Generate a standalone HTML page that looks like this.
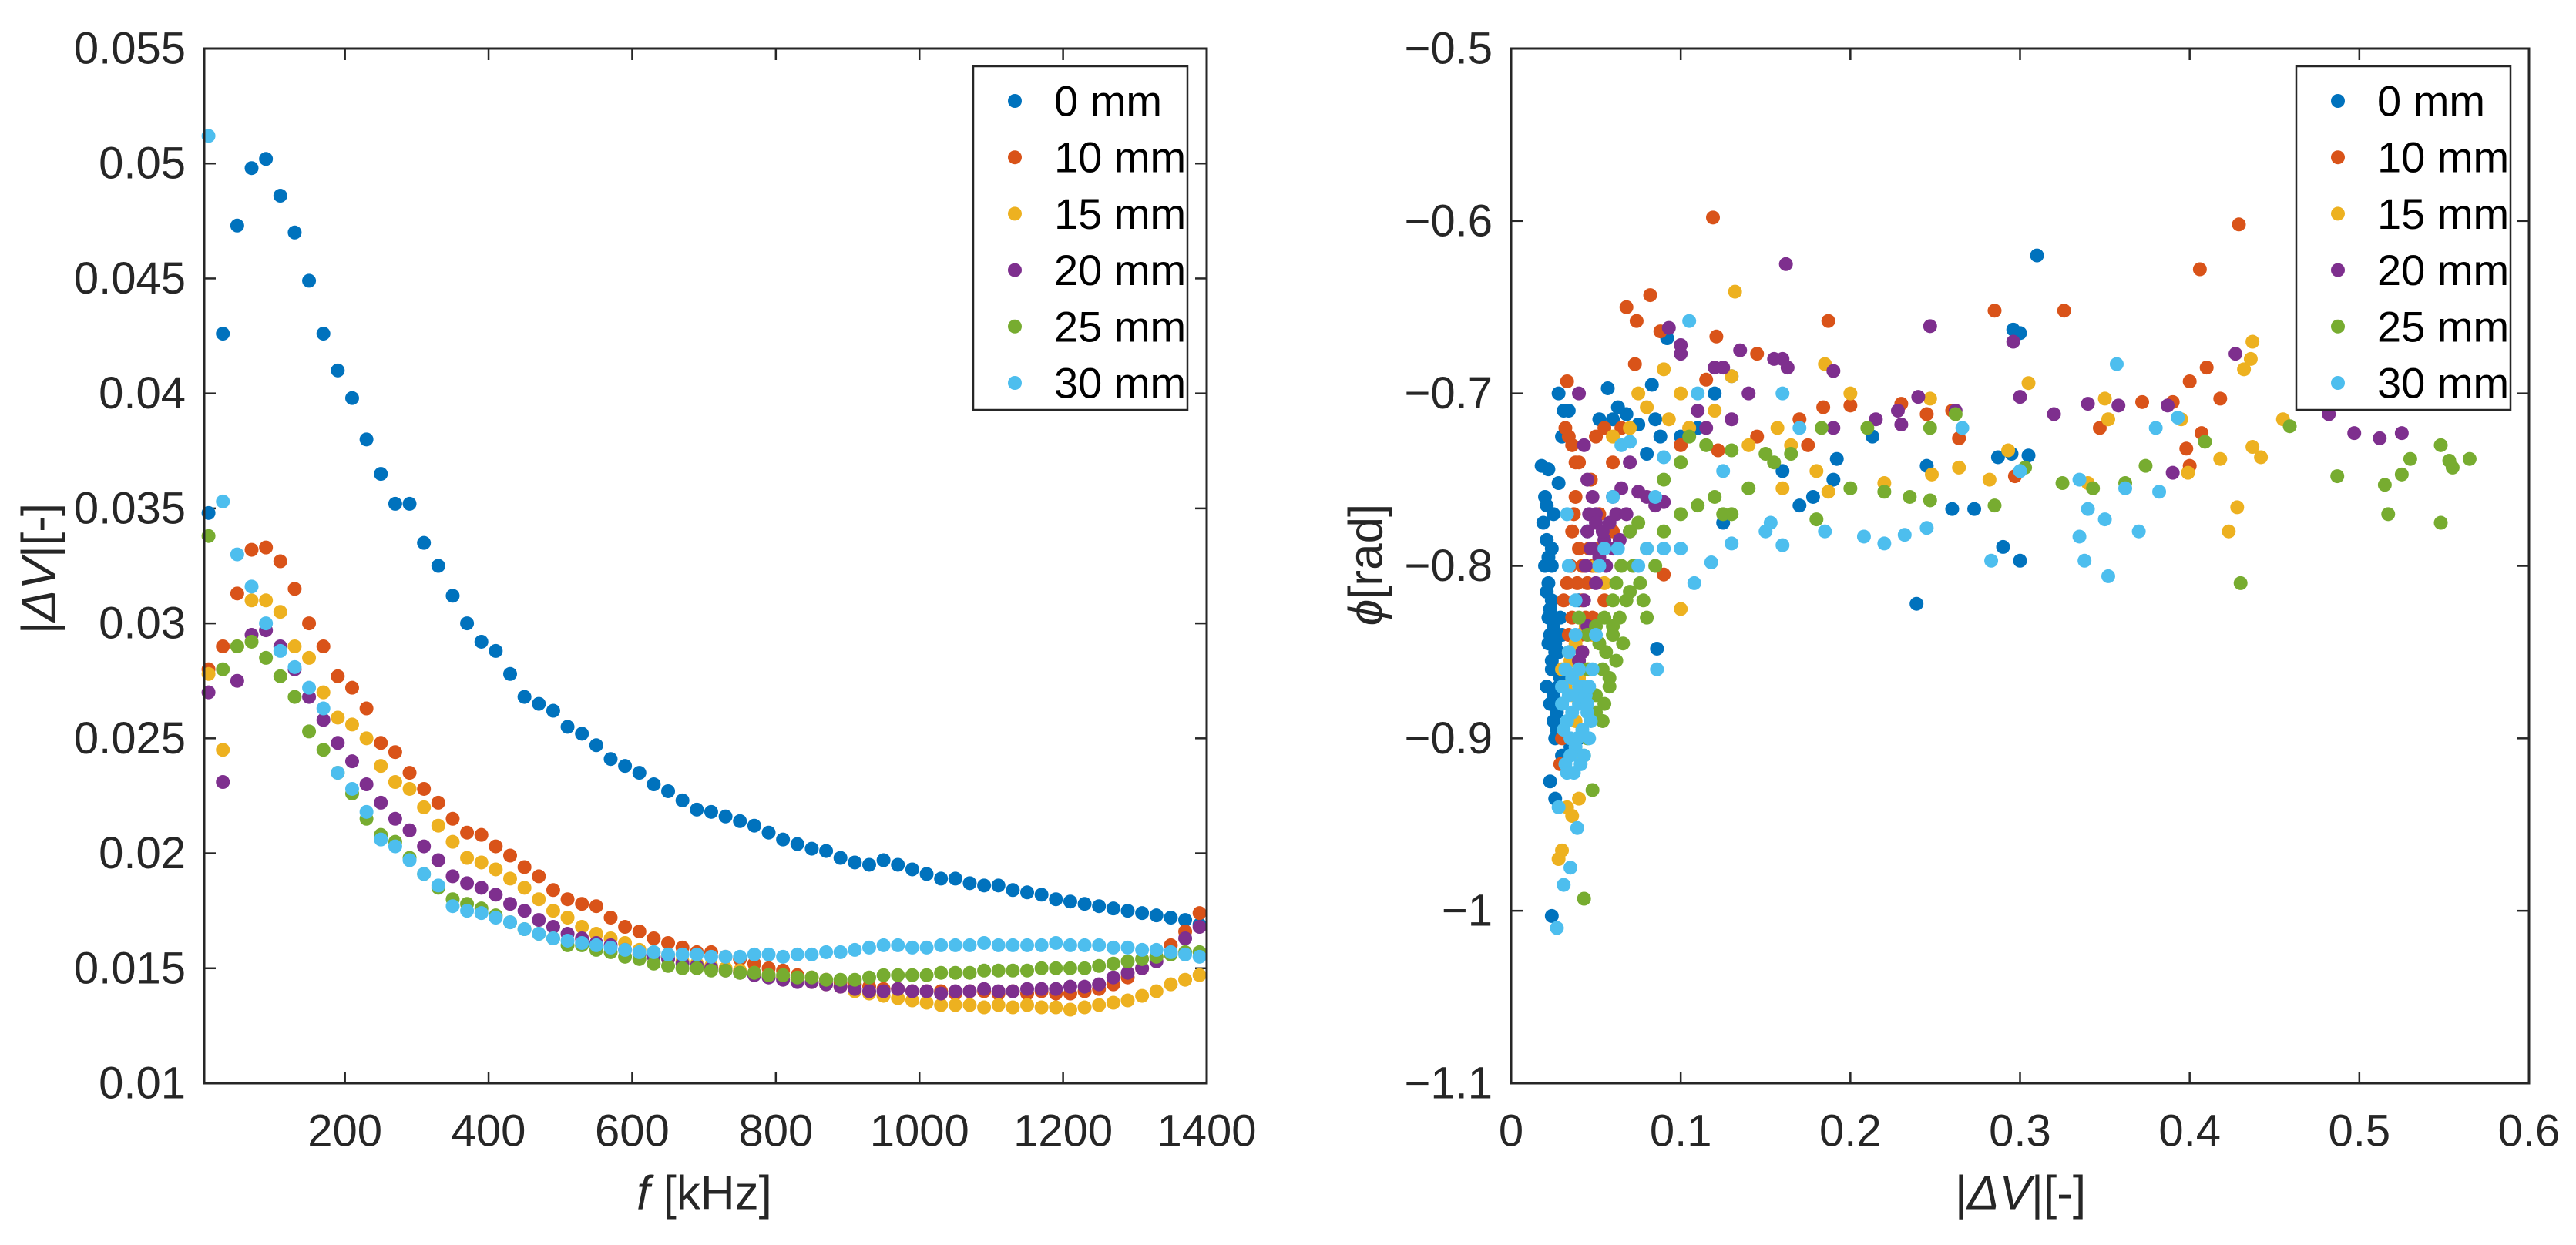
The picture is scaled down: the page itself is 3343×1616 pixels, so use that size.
<!DOCTYPE html>
<html><head><meta charset="utf-8"><style>
html,body{margin:0;padding:0;background:#fff;}
svg{display:block;font-family:"Liberation Sans",Arial,sans-serif;}
</style></head><body>
<svg id="fig" width="3343" height="1616" viewBox="0 0 3343 1616"></svg>
<script>
// ---------- Data ----------
const seriesNames = ["0 mm","10 mm","15 mm","20 mm","25 mm","30 mm"];
const seriesColors = ["#0072BD","#D95319","#EDB120","#7E2F8E","#77AC30","#4DBEEE"];
const freqStart = 10, freqStep = 20; // kHz grid for left panel (70 points)
const leftXTicks = [200,400,600,800,1000,1200,1400];
const leftYTicks = [0.01,0.015,0.02,0.025,0.03,0.035,0.04,0.045,0.05,0.055];
const leftYTickLabels = ["0.01","0.015","0.02","0.025","0.03","0.035","0.04","0.045","0.05","0.055"];
const rightXTicks = [0,0.1,0.2,0.3,0.4,0.5,0.6];
const rightXTickLabels = ["0","0.1","0.2","0.3","0.4","0.5","0.6"];
const rightYTicks = [-1.1,-1,-0.9,-0.8,-0.7,-0.6,-0.5];
const rightYTickLabels = ["\u22121.1","\u22121","\u22120.9","\u22120.8","\u22120.7","\u22120.6","\u22120.5"];

const dv0 = [.0348,.0426,.0473,.0498,.0502,.0486,.0470,.0449,.0426,.0410,.0398,.0380,.0365,.0352,.0352,.0335,.0325,.0312,.0300,.0292,.0288,.0278,.0268,.0265,.0262,.0255,.0252,.0247,.0241,.0238,.0235,.0230,.0227,.0223,.0219,.0218,.0216,.0214,.0212,.0209,.0206,.0204,.0202,.0201,.0198,.0196,.0195,.0197,.0195,.0193,.0191,.0189,.0189,.0187,.0186,.0186,.0184,.0183,.0182,.0180,.0179,.0178,.0177,.0176,.0175,.0174,.0173,.0172,.0171,.0169];
const dv10 = [.0280,.0290,.0313,.0332,.0333,.0327,.0315,.0300,.0290,.0277,.0272,.0263,.0248,.0244,.0235,.0228,.0222,.0215,.0209,.0208,.0203,.0199,.0194,.0190,.0184,.0180,.0178,.0177,.0172,.0168,.0166,.0163,.0161,.0159,.0157,.0157,.0155,.0154,.0152,.0150,.0149,.0147,.0146,.0145,.0144,.0143,.0142,.0141,.0141,.0140,.0140,.0140,.0139,.0140,.0140,.0139,.0140,.0139,.0140,.0139,.0139,.0140,.0141,.0143,.0146,.0150,.0155,.0160,.0166,.0174];
const dv15 = [.0278,.0245,.0290,.0310,.0310,.0305,.0290,.0285,.0270,.0259,.0256,.0250,.0238,.0231,.0228,.0220,.0212,.0205,.0198,.0196,.0193,.0189,.0185,.0180,.0175,.0172,.0168,.0165,.0163,.0161,.0158,.0157,.0155,.0153,.0152,.0151,.0150,.0149,.0148,.0147,.0146,.0145,.0144,.0143,.0142,.0140,.0139,.0138,.0137,.0136,.0135,.0134,.0134,.0134,.0133,.0134,.0133,.0134,.0133,.0133,.0132,.0133,.0134,.0135,.0136,.0138,.0140,.0143,.0145,.0147];
const dv20 = [.0270,.0231,.0275,.0295,.0297,.0290,.0280,.0268,.0258,.0248,.0240,.0230,.0222,.0215,.0210,.0203,.0197,.0190,.0187,.0185,.0182,.0178,.0175,.0171,.0168,.0165,.0163,.0161,.0160,.0158,.0156,.0155,.0154,.0152,.0151,.0150,.0149,.0148,.0147,.0146,.0145,.0144,.0144,.0143,.0142,.0141,.0140,.0140,.0141,.0140,.0140,.0139,.0140,.0140,.0141,.0140,.0140,.0141,.0141,.0141,.0142,.0142,.0143,.0146,.0148,.0150,.0153,.0157,.0163,.0168];
const dv25 = [.0338,.0280,.0290,.0292,.0285,.0277,.0268,.0253,.0245,.0235,.0226,.0215,.0208,.0205,.0198,.0191,.0185,.0180,.0178,.0176,.0173,.0170,.0167,.0165,.0163,.0160,.0160,.0158,.0157,.0155,.0154,.0152,.0151,.0150,.0150,.0149,.0149,.0148,.0148,.0147,.0147,.0146,.0146,.0145,.0145,.0145,.0146,.0147,.0147,.0147,.0147,.0148,.0148,.0148,.0149,.0149,.0149,.0149,.0150,.0150,.0150,.0150,.0151,.0152,.0153,.0154,.0155,.0156,.0157,.0157];
const dv30 = [.0512,.0353,.0330,.0316,.0300,.0288,.0281,.0272,.0263,.0235,.0228,.0218,.0206,.0203,.0197,.0191,.0186,.0177,.0175,.0174,.0172,.0170,.0167,.0165,.0163,.0162,.0161,.0160,.0159,.0158,.0157,.0157,.0156,.0156,.0156,.0155,.0155,.0155,.0156,.0156,.0155,.0156,.0156,.0157,.0157,.0158,.0159,.0160,.0160,.0159,.0159,.0160,.0160,.0160,.0161,.0160,.0160,.0160,.0160,.0161,.0160,.0160,.0160,.0159,.0159,.0158,.0158,.0157,.0156,.0155];

const sc0x = [0.018,0.022,0.020,0.021,0.025,0.028,0.030,0.028,0.031,0.034,0.022,0.024,0.022,0.024,0.022,0.025,0.023,0.026,0.028,0.024,0.027,0.030,0.029,0.025,0.027,0.026,0.030,0.023,0.026,0.024,0.035,0.040,0.045,0.057,0.060,0.063,0.068,0.052,0.075,0.080,0.085,0.088,0.083,0.092,0.100,0.110,0.120,0.125,0.130,0.160,0.170,0.178,0.190,0.192,0.213,0.245,0.260,0.273,0.287,0.290,0.295,0.300,0.296,0.300,0.310,0.305,0.239,0.086,0.045,0.050,0.035,0.040,0.020,0.021,0.023,0.025,0.027,0.029,0.022,0.024,0.026,0.028,0.021,0.023,0.025,0.027,0.030,0.032,0.019,0.021,0.024];
const sc0y = [-0.742,-0.744,-0.76,-0.765,-0.77,-0.752,-0.725,-0.70,-0.71,-0.71,-0.795,-0.80,-0.81,-0.82,-0.83,-0.835,-0.84,-0.845,-0.85,-0.855,-0.86,-0.84,-0.865,-0.875,-0.885,-0.90,-0.91,-0.925,-0.935,-1.003,-0.905,-0.90,-0.87,-0.697,-0.715,-0.708,-0.712,-0.715,-0.718,-0.735,-0.715,-0.725,-0.695,-0.668,-0.725,-0.72,-0.70,-0.775,-0.69,-0.745,-0.765,-0.76,-0.75,-0.738,-0.725,-0.742,-0.767,-0.767,-0.737,-0.789,-0.735,-0.797,-0.663,-0.665,-0.62,-0.736,-0.822,-0.848,-0.78,-0.79,-0.80,-0.82,-0.80,-0.815,-0.825,-0.83,-0.84,-0.83,-0.845,-0.86,-0.85,-0.87,-0.87,-0.88,-0.89,-0.895,-0.88,-0.86,-0.775,-0.785,-0.79];
const sc10x = [0.033,0.032,0.034,0.036,0.038,0.040,0.038,0.037,0.035,0.033,0.031,0.034,0.030,0.029,0.042,0.050,0.055,0.060,0.065,0.068,0.073,0.074,0.082,0.088,0.090,0.100,0.105,0.115,0.119,0.121,0.122,0.145,0.145,0.170,0.175,0.184,0.187,0.200,0.230,0.245,0.260,0.264,0.285,0.297,0.326,0.347,0.372,0.390,0.398,0.400,0.400,0.406,0.407,0.410,0.418,0.429,0.060,0.055,0.048,0.036,0.040,0.043,0.046,0.039,0.042,0.045,0.048,0.036,0.041,0.044,0.050,0.052,0.047];
const sc10y = [-0.693,-0.72,-0.725,-0.73,-0.74,-0.74,-0.76,-0.77,-0.80,-0.81,-0.82,-0.84,-0.90,-0.915,-0.80,-0.725,-0.72,-0.74,-0.72,-0.65,-0.683,-0.658,-0.643,-0.664,-0.805,-0.73,-0.72,-0.692,-0.598,-0.667,-0.733,-0.677,-0.725,-0.715,-0.73,-0.708,-0.658,-0.707,-0.706,-0.712,-0.71,-0.726,-0.652,-0.748,-0.652,-0.72,-0.705,-0.705,-0.732,-0.742,-0.693,-0.628,-0.723,-0.685,-0.703,-0.602,-0.78,-0.82,-0.83,-0.78,-0.79,-0.80,-0.79,-0.81,-0.82,-0.81,-0.80,-0.83,-0.84,-0.83,-0.79,-0.77,-0.75];
const sc15x = [0.030,0.035,0.040,0.045,0.038,0.040,0.036,0.030,0.028,0.033,0.060,0.070,0.075,0.080,0.090,0.093,0.100,0.100,0.105,0.120,0.132,0.130,0.140,0.157,0.160,0.165,0.180,0.185,0.187,0.200,0.220,0.247,0.248,0.264,0.282,0.293,0.305,0.350,0.352,0.399,0.418,0.423,0.428,0.432,0.436,0.437,0.437,0.442,0.455,0.395,0.340,0.050,0.055,0.032,0.036,0.040,0.043,0.046,0.034,0.038,0.042,0.044,0.048];
const sc15y = [-0.86,-0.855,-0.86,-0.87,-0.89,-0.935,-0.945,-0.965,-0.97,-0.94,-0.725,-0.72,-0.70,-0.708,-0.686,-0.715,-0.70,-0.825,-0.72,-0.71,-0.641,-0.69,-0.73,-0.72,-0.755,-0.73,-0.745,-0.683,-0.757,-0.70,-0.752,-0.703,-0.747,-0.743,-0.75,-0.733,-0.694,-0.703,-0.715,-0.746,-0.738,-0.78,-0.766,-0.686,-0.68,-0.67,-0.731,-0.737,-0.715,-0.715,-0.752,-0.80,-0.81,-0.87,-0.875,-0.865,-0.88,-0.86,-0.85,-0.845,-0.85,-0.835,-0.84];
const sc20x = [0.040,0.043,0.045,0.048,0.050,0.045,0.047,0.052,0.055,0.043,0.045,0.042,0.040,0.060,0.065,0.070,0.075,0.080,0.085,0.090,0.093,0.100,0.100,0.110,0.115,0.120,0.125,0.130,0.135,0.140,0.155,0.162,0.160,0.163,0.190,0.190,0.215,0.228,0.230,0.240,0.247,0.262,0.296,0.300,0.320,0.340,0.358,0.387,0.390,0.427,0.482,0.497,0.503,0.512,0.520,0.525,0.530,0.070,0.046,0.050,0.054,0.058,0.062,0.048,0.052,0.056,0.060,0.064,0.068,0.044,0.050];
const sc20y = [-0.70,-0.73,-0.75,-0.76,-0.77,-0.78,-0.79,-0.80,-0.785,-0.82,-0.835,-0.85,-0.855,-0.76,-0.755,-0.74,-0.757,-0.76,-0.765,-0.763,-0.662,-0.677,-0.672,-0.71,-0.72,-0.685,-0.685,-0.715,-0.675,-0.70,-0.68,-0.625,-0.68,-0.685,-0.687,-0.72,-0.715,-0.71,-0.718,-0.702,-0.661,-0.71,-0.67,-0.702,-0.712,-0.706,-0.707,-0.707,-0.746,-0.677,-0.712,-0.723,-0.705,-0.726,-0.70,-0.723,-0.703,-0.78,-0.77,-0.775,-0.78,-0.775,-0.77,-0.79,-0.795,-0.80,-0.79,-0.785,-0.77,-0.80,-0.81];
const sc25x = [0.040,0.045,0.050,0.055,0.060,0.045,0.050,0.055,0.045,0.043,0.048,0.043,0.060,0.065,0.070,0.075,0.070,0.078,0.080,0.085,0.090,0.090,0.100,0.100,0.105,0.110,0.115,0.120,0.125,0.130,0.130,0.140,0.150,0.155,0.165,0.180,0.183,0.200,0.210,0.220,0.235,0.247,0.247,0.262,0.285,0.303,0.325,0.343,0.362,0.374,0.409,0.430,0.459,0.487,0.515,0.517,0.525,0.530,0.548,0.548,0.553,0.555,0.565,0.567,0.052,0.056,0.060,0.064,0.068,0.054,0.058,0.062,0.066,0.050,0.054,0.058,0.072,0.076,0.080,0.062];
const sc25y = [-0.83,-0.84,-0.835,-0.83,-0.84,-0.86,-0.875,-0.88,-0.90,-0.91,-0.93,-0.993,-0.82,-0.80,-0.78,-0.775,-0.815,-0.82,-0.83,-0.80,-0.78,-0.75,-0.74,-0.77,-0.725,-0.765,-0.73,-0.76,-0.77,-0.733,-0.77,-0.755,-0.735,-0.74,-0.735,-0.773,-0.72,-0.755,-0.72,-0.757,-0.76,-0.762,-0.72,-0.712,-0.765,-0.743,-0.752,-0.755,-0.752,-0.742,-0.728,-0.81,-0.719,-0.748,-0.753,-0.77,-0.747,-0.738,-0.73,-0.775,-0.739,-0.743,-0.738,-0.70,-0.845,-0.85,-0.835,-0.83,-0.82,-0.86,-0.865,-0.855,-0.845,-0.885,-0.89,-0.87,-0.80,-0.81,-0.79,-0.81];
const sc30x = [0.030,0.033,0.036,0.040,0.035,0.038,0.042,0.045,0.032,0.040,0.046,0.028,0.039,0.035,0.031,0.027,0.034,0.038,0.033,0.050,0.052,0.055,0.060,0.063,0.065,0.070,0.075,0.080,0.085,0.090,0.090,0.086,0.100,0.105,0.108,0.110,0.118,0.125,0.130,0.150,0.153,0.160,0.160,0.170,0.185,0.208,0.220,0.232,0.245,0.266,0.283,0.300,0.335,0.335,0.338,0.340,0.350,0.352,0.357,0.362,0.370,0.380,0.382,0.393,0.030,0.032,0.034,0.036,0.038,0.040,0.042,0.044,0.046,0.048,0.031,0.035,0.039,0.043,0.047,0.033,0.037,0.041,0.045,0.034,0.038];
const sc30y = [-0.88,-0.89,-0.885,-0.88,-0.90,-0.905,-0.895,-0.885,-0.915,-0.87,-0.90,-0.94,-0.952,-0.975,-0.985,-1.01,-0.80,-0.82,-0.77,-0.84,-0.80,-0.79,-0.76,-0.79,-0.73,-0.728,-0.80,-0.79,-0.76,-0.79,-0.737,-0.86,-0.79,-0.658,-0.81,-0.70,-0.798,-0.745,-0.787,-0.78,-0.775,-0.70,-0.788,-0.72,-0.78,-0.783,-0.787,-0.782,-0.778,-0.72,-0.797,-0.745,-0.75,-0.783,-0.797,-0.767,-0.773,-0.806,-0.683,-0.755,-0.78,-0.72,-0.757,-0.714,-0.87,-0.86,-0.875,-0.865,-0.875,-0.86,-0.87,-0.875,-0.87,-0.86,-0.895,-0.91,-0.90,-0.91,-0.89,-0.92,-0.92,-0.915,-0.88,-0.85,-0.84];

// ---------- Layout ----------
const NS = "http://www.w3.org/2000/svg";
const svg = document.getElementById("fig");
const INK = "#262626";
const R = 9;
function mk(tag, attrs, parent){ const e=document.createElementNS(NS,tag); for(const k in attrs) e.setAttribute(k,attrs[k]); (parent||svg).appendChild(e); return e; }

const L = {x0:265, x1:1566, y0:63, y1:1406, xmin:4, xmax:1400, ymin:0.01, ymax:0.055};
const Rt = {x0:1961, x1:3282, y0:63, y1:1406, xmin:0, xmax:0.6, ymin:-1.1, ymax:-0.5};
function sx(a,v){ return a.x0 + (v-a.xmin)/(a.xmax-a.xmin)*(a.x1-a.x0); }
function sy(a,v){ return a.y1 - (v-a.ymin)/(a.ymax-a.ymin)*(a.y1-a.y0); }

function drawAxes(a, name, xt, xtl, yt, ytl){
  const g = mk("g",{});
  
  
  const bg = mk("rect",{x:a.x0,y:a.y0,width:a.x1-a.x0,height:a.y1-a.y0,fill:"#fff"},g);
  
  
  xt.forEach((v,i)=>{
    const x = sx(a,v);
    const t1 = mk("line",{x1:x,x2:x,y1:a.y1,y2:a.y1-15,stroke:INK,"stroke-width":2.5},g);
    
    
    const t2 = mk("line",{x1:x,x2:x,y1:a.y0,y2:a.y0+15,stroke:INK,"stroke-width":2.5},g);
    
    
    const tx = mk("text",{x:x,y:1468,"font-size":58,fill:INK,"text-anchor":"middle","dominant-baseline":"central"},g);
    tx.textContent = xtl[i];
    
    
  });
  yt.forEach((v,i)=>{
    const y = sy(a,v);
    const t1 = mk("line",{x1:a.x0,x2:a.x0+15,y1:y,y2:y,stroke:INK,"stroke-width":2.5},g);
    
    
    const t2 = mk("line",{x1:a.x1,x2:a.x1-15,y1:y,y2:y,stroke:INK,"stroke-width":2.5},g);
    
    
    const tx = mk("text",{x:a.x0-24,y:y,"font-size":58,fill:INK,"text-anchor":"end","dominant-baseline":"central"},g);
    tx.textContent = ytl[i];
    
    
  });
  return g;
}
function drawFrame(a,name){
  const f = mk("rect",{x:a.x0,y:a.y0,width:a.x1-a.x0,height:a.y1-a.y0,fill:"none",stroke:INK,"stroke-width":3});
  
  
}
function drawLegend(lx, name){
  const g = mk("g",{});
  
  
  mk("rect",{x:lx,y:86,width:278,height:446,fill:"#fff",stroke:INK,"stroke-width":2.5},g);
  seriesNames.forEach((s,i)=>{
    const y = 131 + i*73.2;
    const e = mk("g",{},g);
    
    
    mk("circle",{cx:lx+54,cy:y,r:R,fill:seriesColors[i]},e);
    const t = mk("text",{x:lx+105,y:y,"font-size":56,fill:"#000","dominant-baseline":"central"},e);
    t.textContent = s;
  });
}

// Left panel
const leftSeries = [dv0,dv10,dv15,dv20,dv25,dv30];
drawAxes(L,"left",leftXTicks,leftXTicks.map(String),leftYTicks,leftYTickLabels);
leftSeries.forEach((arr,si)=>{
  const g = mk("g",{fill:seriesColors[si]});
  
  
  arr.forEach((v,i)=>{
    const c = mk("circle",{cx:sx(L,freqStart+i*freqStep),cy:sy(L,v),r:R},g);
    
    
  });
});
drawFrame(L,"left");
drawLegend(1263,"left");

// Right panel
const rightX = [sc0x,sc10x,sc15x,sc20x,sc25x,sc30x];
const rightY = [sc0y,sc10y,sc15y,sc20y,sc25y,sc30y];
drawAxes(Rt,"right",rightXTicks,rightXTickLabels,rightYTicks,rightYTickLabels);
rightX.forEach((xs,si)=>{
  const g = mk("g",{fill:seriesColors[si]});
  
  
  xs.forEach((xv,i)=>{
    const c = mk("circle",{cx:sx(Rt,xv),cy:sy(Rt,rightY[si][i]),r:R},g);
    
    
  });
});
drawFrame(Rt,"right");
drawLegend(2980,"right");
</script>
<div style="position:absolute;left:0;top:0;width:3343px;height:1616px;pointer-events:none;font-family:'Liberation Sans',Arial,sans-serif;color:#262626;">
  <div style="position:absolute;left:51px;top:738px;transform:translate(-50%,-50%) rotate(-90deg);font-size:62px;white-space:nowrap;">|<i>ΔV</i>|[-]</div>
  <div style="position:absolute;left:914px;top:1549px;transform:translate(-50%,-50%);font-size:62px;white-space:nowrap;"><i>f</i> [kHz]</div>
  <div style="position:absolute;left:1773px;top:733px;transform:translate(-50%,-50%) rotate(-90deg);font-size:62px;white-space:nowrap;"><i>ϕ</i>[rad]</div>
  <div style="position:absolute;left:2622px;top:1549px;transform:translate(-50%,-50%);font-size:62px;white-space:nowrap;">|<i>ΔV</i>|[-]</div>
</div>
</body></html>
